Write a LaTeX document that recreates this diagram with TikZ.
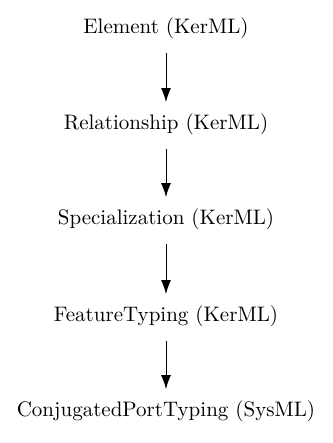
\documentclass[tikz,border=0pt]{standalone}
\usetikzlibrary{arrows.meta}
\begin{document}
\begin{tikzpicture}[x=0.5pt,y=-0.5pt,
  lbl/.style={font=\fontsize{10.5}{12}\selectfont, inner sep=2pt},
  arr/.style={-{Latex[length=7pt,width=5pt]}, line width=0.5pt, shorten >=3.5pt, shorten <=5pt}]
\useasboundingbox (0,0) rectangle (332,443);
\node[lbl] (e) at (166,28) {Element (KerML)};
\node[lbl] (r) at (166,124) {Relationship (KerML)};
\node[lbl] (s) at (166,219) {Specialization (KerML)};
\node[lbl] (f) at (166,316) {FeatureTyping (KerML)};
\node[lbl] (c) at (166,411) {ConjugatedPortTyping (SysML)};
\draw[arr] (e) -- (r);
\draw[arr] (r) -- (s);
\draw[arr] (s) -- (f);
\draw[arr] (f) -- (c);
\end{tikzpicture}
\end{document}
